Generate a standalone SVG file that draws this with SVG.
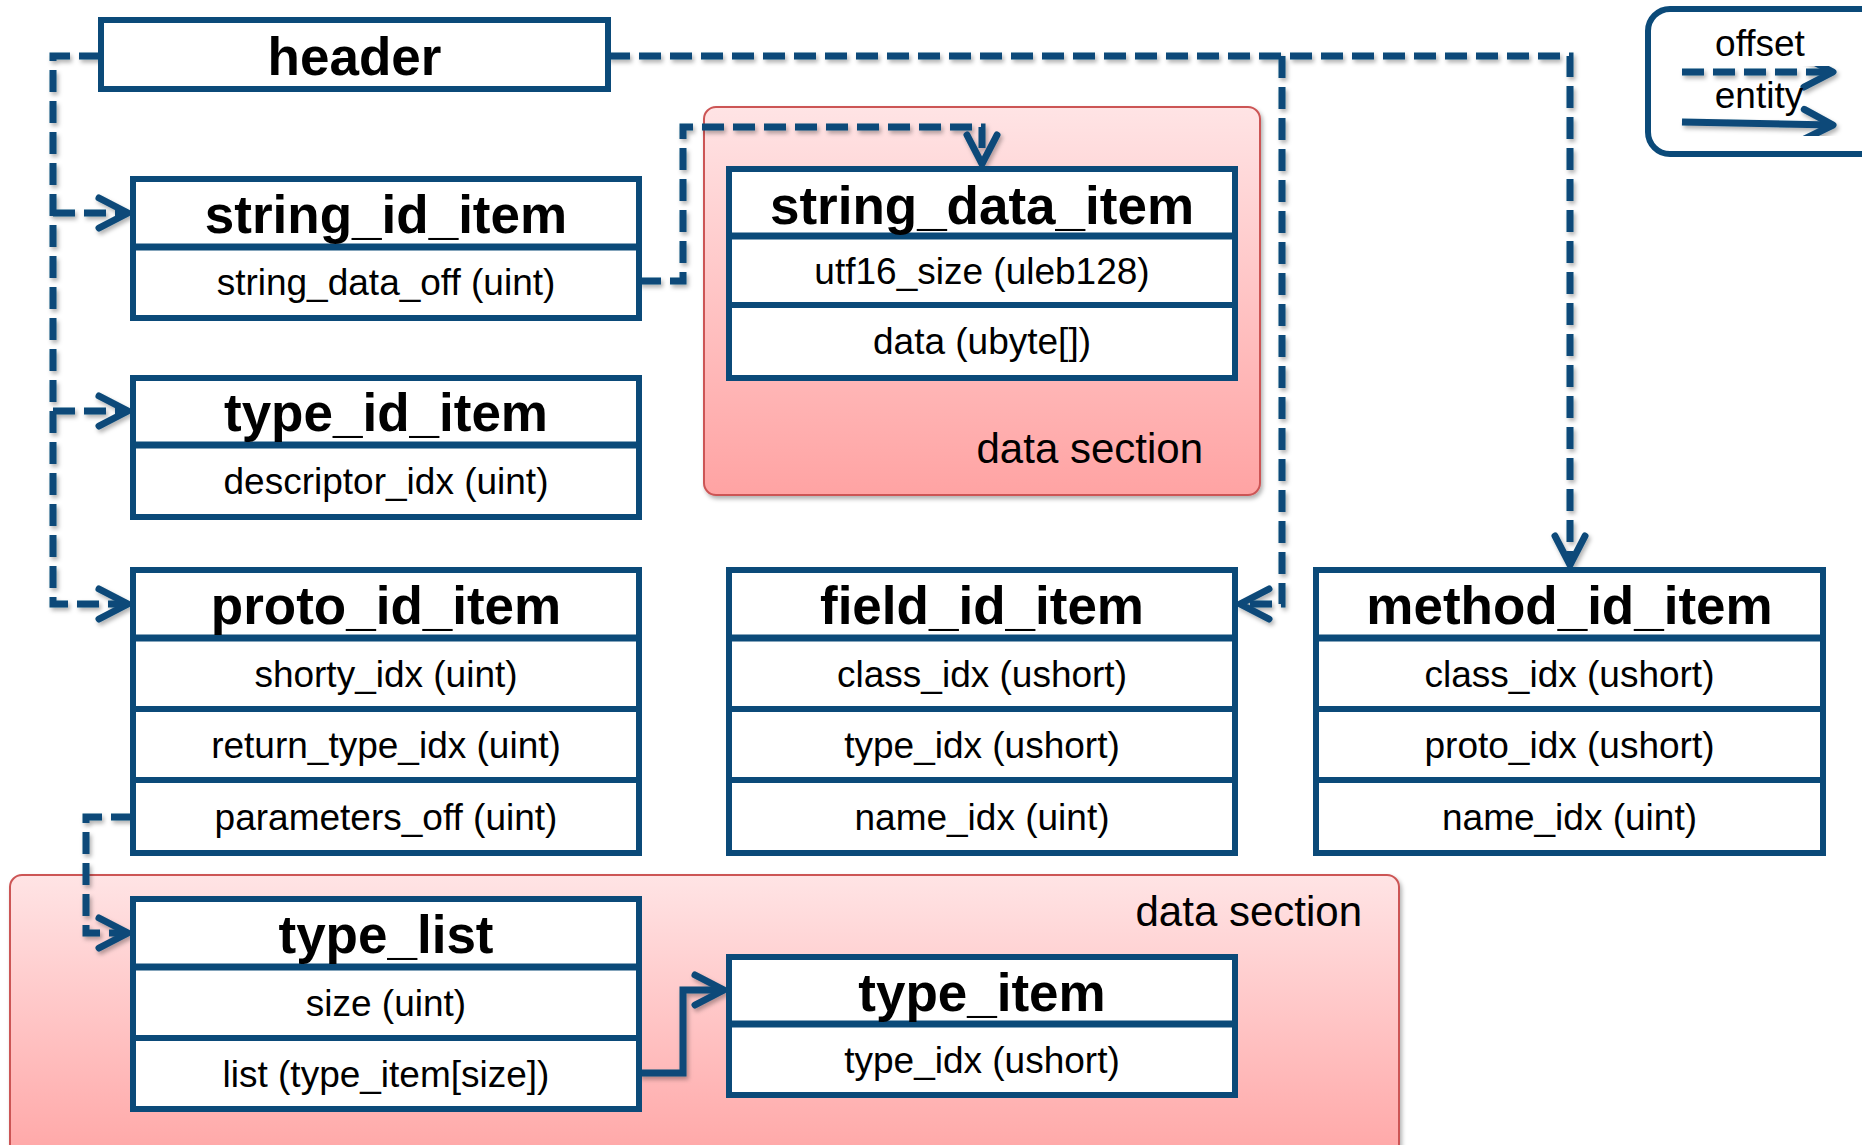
<svg xmlns="http://www.w3.org/2000/svg" width="1862" height="1145" viewBox="0 0 1862 1145">
<defs>
<style>
.box{fill:#fff;stroke:#0b4a79;stroke-width:6}
.div{stroke:#0b4a79;stroke-width:6}
.tdiv{stroke:#0b4a79;stroke-width:7}
.t{font-family:"Liberation Sans",Arial,sans-serif;font-weight:bold;font-size:53px;fill:#000;text-anchor:middle}
.f{font-family:"Liberation Sans",Arial,sans-serif;font-size:37px;fill:#000;text-anchor:middle}
.ds{font-family:"Liberation Sans",Arial,sans-serif;font-size:42px;fill:#000;text-anchor:end}
.sec{stroke:#cc5555;stroke-width:2}
.off{fill:none;stroke:#0b4a79;stroke-width:7;stroke-dasharray:22 9}
.ent{fill:none;stroke:#0b4a79;stroke-width:7}
.ah{fill:none;stroke:#0b4a79;stroke-width:7;stroke-linecap:round;stroke-linejoin:round;stroke-dasharray:none}
</style>
<linearGradient id="pink" x1="0" y1="0" x2="0" y2="1">
<stop offset="0" stop-color="#ffe4e5"/>
<stop offset="1" stop-color="#ffa3a3"/>
</linearGradient>
<filter id="sh" x="-10%" y="-10%" width="130%" height="130%">
<feDropShadow dx="2" dy="3" stdDeviation="2" flood-color="#000" flood-opacity="0.3"/>
</filter>
<marker id="arr" markerUnits="userSpaceOnUse" viewBox="-40 -24 50 48" refX="0" refY="0" markerWidth="50" markerHeight="48" orient="auto">
<path class="ah" d="M-29,-15 L0,0 L-29,15"/>
</marker>
</defs>

<g id="data-section-top" filter="url(#sh)">
<rect class="sec" x="704" y="107" width="556" height="388" rx="12" fill="url(#pink)"/>
</g>
<g id="data-section-bottom" filter="url(#sh)">
<rect class="sec" x="10" y="875" width="1389" height="300" rx="12" fill="url(#pink)"/>
</g>
<text class="ds" x="1203" y="463">data section</text>
<text class="ds" x="1362" y="926">data section</text>

<g id="connectors" filter="url(#sh)">
<path class="off" d="M101,56 H53 V604 H128" marker-end="url(#arr)"/>
<path class="off" d="M53,213 H128" marker-end="url(#arr)"/>
<path class="off" d="M53,411 H128" marker-end="url(#arr)"/>
<path class="off" d="M608,56 H1570 V565" marker-end="url(#arr)"/>
<path class="off" d="M1282,56 V604 H1240" marker-end="url(#arr)"/>
<path class="off" d="M639,281 H683 V127 H982 V164" marker-end="url(#arr)"/>
<path class="off" d="M133,817 H86 V933 H128" marker-end="url(#arr)"/>
<path class="ent" d="M639,1073 H683 V990 H724" marker-end="url(#arr)"/>
</g>

<g id="header">
<rect class="box" x="101" y="20" width="507" height="69"/>
<text class="t" x="354.5" y="75">header</text>
</g>

<g id="string_id_item">
<rect class="box" x="133" y="179" width="506" height="139"/>
<line class="tdiv" x1="133" y1="247" x2="639" y2="247"/>
<text class="t" x="386" y="233">string_id_item</text>
<text class="f" x="386" y="295">string_data_off (uint)</text>
</g>

<g id="type_id_item">
<rect class="box" x="133" y="378" width="506" height="139"/>
<line class="tdiv" x1="133" y1="445" x2="639" y2="445"/>
<text class="t" x="386" y="431">type_id_item</text>
<text class="f" x="386" y="494">descriptor_idx (uint)</text>
</g>

<g id="proto_id_item">
<rect class="box" x="133" y="570" width="506" height="283"/>
<line class="tdiv" x1="133" y1="638" x2="639" y2="638"/>
<line class="div" x1="133" y1="709" x2="639" y2="709"/>
<line class="div" x1="133" y1="780" x2="639" y2="780"/>
<text class="t" x="386" y="624">proto_id_item</text>
<text class="f" x="386" y="687">shorty_idx (uint)</text>
<text class="f" x="386" y="758">return_type_idx (uint)</text>
<text class="f" x="386" y="830">parameters_off (uint)</text>
</g>

<g id="field_id_item">
<rect class="box" x="729" y="570" width="506" height="283"/>
<line class="tdiv" x1="729" y1="638" x2="1235" y2="638"/>
<line class="div" x1="729" y1="709" x2="1235" y2="709"/>
<line class="div" x1="729" y1="780" x2="1235" y2="780"/>
<text class="t" x="982" y="624">field_id_item</text>
<text class="f" x="982" y="687">class_idx (ushort)</text>
<text class="f" x="982" y="758">type_idx (ushort)</text>
<text class="f" x="982" y="830">name_idx (uint)</text>
</g>

<g id="method_id_item">
<rect class="box" x="1316" y="570" width="507" height="283"/>
<line class="tdiv" x1="1316" y1="638" x2="1823" y2="638"/>
<line class="div" x1="1316" y1="709" x2="1823" y2="709"/>
<line class="div" x1="1316" y1="780" x2="1823" y2="780"/>
<text class="t" x="1569.5" y="624">method_id_item</text>
<text class="f" x="1569.5" y="687">class_idx (ushort)</text>
<text class="f" x="1569.5" y="758">proto_idx (ushort)</text>
<text class="f" x="1569.5" y="830">name_idx (uint)</text>
</g>

<g id="string_data_item">
<rect class="box" x="729" y="169" width="506" height="209"/>
<line class="tdiv" x1="729" y1="236" x2="1235" y2="236"/>
<line class="div" x1="729" y1="305" x2="1235" y2="305"/>
<text class="t" x="982" y="224">string_data_item</text>
<text class="f" x="982" y="284">utf16_size (uleb128)</text>
<text class="f" x="982" y="354">data (ubyte[])</text>
</g>

<g id="type_list">
<rect class="box" x="133" y="899" width="506" height="210"/>
<line class="tdiv" x1="133" y1="967" x2="639" y2="967"/>
<line class="div" x1="133" y1="1038" x2="639" y2="1038"/>
<text class="t" x="386" y="953">type_list</text>
<text class="f" x="386" y="1016">size (uint)</text>
<text class="f" x="386" y="1087">list (type_item[size])</text>
</g>

<g id="type_item">
<rect class="box" x="729" y="957" width="506" height="138"/>
<line class="tdiv" x1="729" y1="1024" x2="1235" y2="1024"/>
<text class="t" x="982" y="1011">type_item</text>
<text class="f" x="982" y="1073">type_idx (ushort)</text>
</g>

<g id="legend">
<rect x="1648" y="9" width="240" height="145" rx="22" fill="#fff" stroke="#0b4a79" stroke-width="6"/>
<g filter="url(#sh)">
<path class="off" d="M1682,72 H1833" marker-end="url(#arr)"/>
<path class="ent" d="M1682,122 L1833,125" marker-end="url(#arr)"/>
</g>
<text class="f" x="1760" y="56">offset</text>
<text class="f" x="1759" y="108">entity</text>
</g>
</svg>
